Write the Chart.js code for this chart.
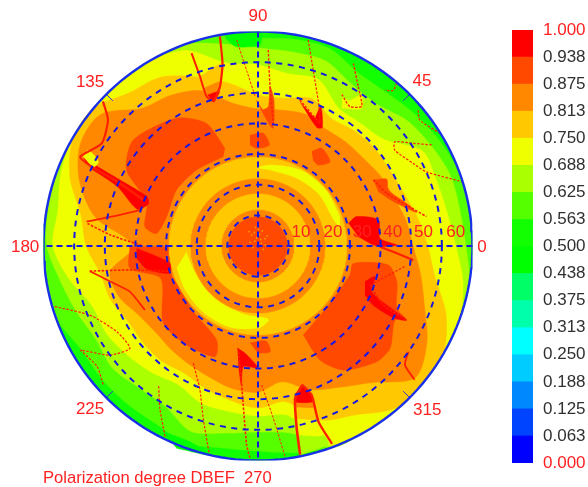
<!DOCTYPE html>
<html><head><meta charset="utf-8">
<style>html,body{margin:0;padding:0;background:#fff;overflow:hidden}canvas{position:absolute;display:block}</style>
<script src="https://cdn.jsdelivr.net/npm/chart.js@4"></script>
</head><body>
<canvas id="polar" width="588" height="487" style="left:0;top:0;width:588px;height:487px"></canvas>
<canvas id="bar" width="76" height="463" style="left:512px;top:15px;width:76px;height:463px"></canvas>
<script>
// contour radii, one every 10 degrees counter-clockwise from 0
const contourStep = 10;
const contourG = [70,69.8,69.8,68.5,66.9,65.3,65.3,68.5,68.5,67.9,69.8,70,70,70,70,70,70,70,70,70,69.8,66.9,66.9,66.9,66.9,68.5,66.9,66.9,68.5,70,70,70,70,70,70,70];
const contourL = [67.9,66.9,66.9,65.3,63.6,60.4,61,64.3,64.3,64.6,66.9,70,70,70,70,70,70,69.5,68.9,65.5,63,61,62,60.4,60.4,64.3,62,60.7,62,70,70,70,70,70,70,70];
const contourY = [64.6,62.7,62,62,53.9,52.2,52.2,57.8,57.1,59.1,60.7,67.9,70,70,70,70,68.5,66.3,66.9,62.5,57.5,57.1,55.5,53.9,52.2,54.5,54.8,55.5,56.1,69.2,70,70,70,70,70,67.9];
const contourA = [55.5,52.9,50.6,49.6,49.6,49,48,51.2,49,49.3,53.9,58.7,63.6,65.3,70,69.8,65.3,58.7,56.1,52.2,51.2,49,49,49,48,49.6,51.2,52.9,51.6,60.4,63.6,69.2,70,69.8,65.3,58.7];
const contourO = [50.6,49,47,46,44.7,44.4,44.1,45.7,45,44.7,47.3,53.9,56.8,58.7,66.9,66.9,62,53.9,40.8,49,48.3,45,43.7,44.1,44.7,45.7,47.3,47.7,45,49.9,53.2,58.1,66.9,63.6,57.8,53.9];
const contourValues = [.59,.66,.72,.78,.84];
const baseValue = .53;
// concentric bands
const bandRadii = [29,21.9,17,11.75,9.5];
const bandValues = [.78,.84,.78,.84,.91];
// patches: value and [x,y] outline in radius units, back to front
const patchValues = [.47,.47,.91,.91,.91,.91,.91,.97,.91,.97,.97,.91,.91,.94,.78,.84,.97,.97,.97,.72,.72,.66,.72,.78,.84,.97];
const patchOutlines = [
[[-30.9,-60.6],[-22.2,-63.9],[-15.7,-68.2],[-26.6,-66]],
[[-11.3,69.4],[.7,70],[.7,65.8],[-7,65],[-10.2,67.4]],
[[-10.8,31.9],[-16.8,40],[-26.6,41.7],[-40.7,34.6],[-42.9,24.8],[-36.3,14.5],[-36.9,6.3],[-33.1,4.1],[-29.8,9.6],[-26.6,18.3],[-20,24.8],[-11.3,29.2]],
[[-28.7,-.2],[-28.2,-9.5],[-25.5,-13.8],[-21.1,-21.4],[-13.5,-30.7],[-14,-36.1],[-23.3,-32.3],[-30.9,-25.2],[-31.7,-10.6],[-41.8,-7.3],[-41.8,-.2]],
[[14.8,-29],[20.2,-37.2],[27.9,-40.5],[38.7,-37.8],[43.1,-33.4],[44.7,-24.2],[48.5,-24.2],[45.3,-20.3],[45.3,-11.6],[42.5,-6.2],[31.1,-5.7],[30,-9.5],[23,-19.3]],
[[17.5,30.8],[20.8,31.9],[23.5,27.5],[19.7,26.4],[18,28]],
[[-2.6,36.2],[1.7,36.8],[3.7,33],[-.4,31.9],[-2.6,33]],
[[-39.6,-.8],[-34.2,-2.9],[-28.7,-5.7],[-28.9,-8.9],[-36.3,-7.5],[-39.6,-4]],
[[-2.6,-31.6],[2.6,-31],[4,-34.5],[0,-35]],
[[34.9,-11.6],[38.2,-10],[37.1,-14.9],[44.2,-20.9],[48.5,-24.2],[44.2,-23.4],[37.6,-19.3],[34.9,-16]],
[[29.5,7.4],[32.2,9.6],[39.3,8.5],[39.8,2.5],[45.3,.3],[38.7,0],[32.8,3]],
[[37.6,21.5],[42,21.8],[42.5,18.3],[48.5,13.9],[51.8,10.9],[44.2,14.5],[39.3,17.7]],
[[-.7,47.7],[4.8,38.4],[5.2,47.7],[3.9,52],[3.4,45.5],[1.7,44.4]],
[[13.7,47.1],[19.2,38.7],[21,38.7],[20.5,45.5],[18.6,41.7]],
[[-18.9,55.3],[-11.5,59.6],[-12.4,52],[-14.6,47.1],[-16.8,48.7]],
[[-17.6,51.5],[-12.2,53.6],[-12.6,50.4],[-14.6,47.1],[-16.5,48.5]],
[[-16.5,49.3],[-12.6,50.4],[-14.4,46.8]],
[[-6.7,-33.4],[-4.2,-35],[-.2,-39.7],[-4.8,-39.4],[-5.4,-45.4],[-6.4,-38.8]],
[[-57,28.6],[-45,21.5],[-36.3,16.1],[-35.8,13.7],[-39.4,12],[-45.9,19.4],[-54.3,25.1]],
[[-57,29.2],[-55.4,31.3],[-52.1,27.5],[-53.8,25.3]],
[[27.3,44.9],[33.8,44.9],[33.8,49.3],[30,47.5],[27.5,48.5]],
[[12.8,-61.7],[21.1,-61.7],[23,-64.6],[13.7,-68.2]],
[[12.1,-49.7],[17.5,-48.6],[19.7,-57.3],[21.1,-61.7],[12.8,-61.7]],
[[12.3,-49.7],[17.5,-48.6],[19.1,-56.3],[12.6,-56.3]],
[[12.3,-50.3],[17.5,-48.6],[18.4,-52.5],[12.4,-52.5]],
[[14.5,-45.2],[17.5,-48.6],[17.8,-50.8],[12.1,-50.8],[12.3,-48.1]]
];
// yellow crescents around the inner rings: [angle degrees, radius]
const crescents = [
[[12,27.4],[20,26.1],[40,26.1],[60,25.5],[80,25.1],[90,25.5],[80,26.8],[60,28.4],[40,28.7],[20,28.4]],
[[185,23.5],[200,22.5],[220,22.2],[240,22.2],[260,22.8],[278,24.2],[270,26.8],[250,28],[230,28],[210,27.7],[195,27.4]]
];
// thin ridges: [angle degrees, radius]
const ridges = [
[[87,64],[85.7,52.2],[82.9,40.5]],
[[76.3,69.2],[72.5,60],[67,50.6],[63,44.7]],
[[74,49.6],[63,44.7]],
[[62.4,67.2],[57.8,61.4],[53.4,56.8],[56.6,54.5],[61,56.5]],
[[49.6,69.8],[49,67.2],[50.9,65.6]],
[[40.3,68.5],[37.9,66.9],[31.8,69.8]],
[[30.2,65.6],[33.5,60.7],[37.3,56.1],[35,54.5],[28,57.4],[23.8,60],[17.4,70]],
[[29.8,43.4],[22.3,45.4],[15.4,50.3],[9.9,55.8]],
[[95.9,67.6],[93.7,57.4],[91,48.6]],
[[100.3,69.5],[101,60.7],[103.4,53.5],[107,49.3]],
[[109,66.6],[108.9,58.4],[109,51.6],[107,49.3]],
[[137,69.2],[139.9,64],[146.7,61],[153.4,64.9],[154.5,60],[155.6,49.6],[158,40.5]],
[[171.9,56.5],[168.5,48.3],[163,40.1]],
[[172.5,56.1],[175.7,48.3],[180,37.5]],
[[188.5,55.5],[190.6,42.4],[196,30]],
[[188.5,55.5],[193.5,49.6],[199.6,44.4],[209.5,42.4]],
[[196.6,69.2],[202.3,59.4],[211.2,53.9],[218.6,53.5],[216.4,60],[210.3,67.2]],
[[210.3,67.2],[216.8,65.6],[222,67.9]],
[[234.7,56.1],[238.9,62],[244,69.2]],
[[241.1,43.7],[247.8,50.3],[252.4,59.1],[256.9,70]],
[[259,33.9],[263.3,45.7],[266.7,64.9],[267.8,69.2]],
[[271.5,45.4],[275.1,56.5],[277.3,69.2]],
[[287.7,47.6],[283.7,51.2],[282,60.7],[281.4,69.5]],
[[287.7,47.6],[289.8,51.6],[289,60.7],[290.5,68.9]],
[[324.9,60],[321,61.7],[319.5,67.2]],
[[340.8,38.8],[334.8,45],[333.5,54.2]],
[[359.7,39.8],[357,45.4],[354.8,50.9]],
[[352,48.3],[342,39.5]]
];
const ridgeWidths = [1.4,1.2,1.4,1.4,1.2,1.2,1.2,1.6,1,2.2,2,2.2,1.8,1.6,1.6,1.8,1.2,1.2,1.2,1.2,1.6,1,2.6,2.4,1.8,1.6,2.2,1.2];
const speckX = [-2.1,-1.2,-.4,.5,1.4,2.3,-2.6,-1,.2,1.1,3,-1.7,0,1.7,-.8,.9,2.4,-2.9];
const speckY = [3.6,4.4,2.7,3.8,4.9,2.4,1.2,1.6,5.4,.9,3.3,-.5,.4,-1.1,6.1,2.1,.3,4.7];
const colourLevels = ['#0000ff','#0044ff','#0088ff','#00ccff','#00ffff','#00ffaa','#00ff66','#00ff00','#11ff00','#55ff00','#aaff00','#f0ff00','#ffc800','#ff8800','#ff4800','#ff0000'];
const binWidths = [.0625,.0625,.0625,.0625,.0625,.0625,.0625,.0625,.0625,.0625,.0625,.0625,.0625,.0625,.0625,.0625];
const colourTicks = ['0.000','0.063','0.125','0.188','0.250','0.313','0.375','0.438','0.500','0.563','0.625','0.688','0.750','0.813','0.875','0.938','1.000'];
const gridRadii = [10,20,30,40,50,60];
const radialLabels = ['10','20','30','40','50','60'];
const radialLabelX = [14,24.5,34,44,54,64.5];
const radialLabelY = 4.6;
const outerRadius = 70;
const angleLabels = ['0','45','90','135','180','225','315'];
const angleLabelAt = [[73.1,-.3],[53.5,53.8],[0,75],[-54.8,53.5],[-76,-.3],[-54.8,-53.2],[55.2,-53.5]];
const captionText = 'Polarization degree DBEF  270';

const toXY = (deg, r) => ({x: r*Math.cos(deg*Math.PI/180), y: r*Math.sin(deg*Math.PI/180)});
const colourOf = v => colourLevels[Math.min(15, Math.floor(v*16))];
const sweep = Array.from({length: 181}, (_, i) => i*2);

const lineSet = (points, o) => Object.assign({type:'scatter', data: points, showLine:true, pointRadius:0, fill:false}, o);
const filled = (points, v, order, tension) => lineSet(points, {fill:'shape', backgroundColor:colourOf(v), borderColor:colourOf(v), borderWidth:.5, tension, order});

const fillSets = [filled(sweep.map(a => toXY(a, outerRadius)), baseValue, 60, 0)];
[contourG,contourL,contourY,contourA,contourO].forEach((c,i) => {
  const pts = c.map((r,k) => toXY(k*contourStep, r)); pts.push(pts[0]);
  fillSets.push(filled(pts, contourValues[i], 50-i, .3));
});
patchOutlines.forEach((p,i) => fillSets.push(filled(p.map(q => ({x:q[0],y:q[1]})), patchValues[i], 44-i*.1, .25)));
fillSets.push(filled(sweep.map(a => toXY(a, 29)), bandValues[0], 30, 0));
crescents.forEach((c,i) => fillSets.push(filled(c.map(q => toXY(q[0],q[1])), .72, 29, .3)));
bandRadii.slice(1).forEach((r,i) => fillSets.push(filled(sweep.map(a => toXY(a, r)), bandValues[i+1], 28-i, 0)));

const speckSet = {type:'scatter', data: speckX.map((x,i) => ({x, y:speckY[i]})), pointRadius:.9, pointBackgroundColor:'#ff9a00', pointBorderWidth:0, order:20};
const ridgeSets = ridges.map((p,i) => lineSet(p.map(q => toXY(q[0], q[1])), {borderColor:'#ff2000', borderWidth:ridgeWidths[i], borderDash:ridgeWidths[i]>1.7?[]:[2.5,1.5], tension:.2, order:10}));
const gridSets = gridRadii.map(r => lineSet(sweep.map(a => toXY(a, r)), {borderColor:'#1818e0', borderWidth:2, borderDash:[6,5.5], order:1}));
const axisSets = [[0,180],[90,270]].map(a => lineSet([toXY(a[0],outerRadius), toXY(a[1],outerRadius)], {borderColor:'#1818e0', borderWidth:2, borderDash:[6,4], order:1}));
const tickSets = [45,135,225,315].map(a => lineSet([toXY(a,67),toXY(a,outerRadius)], {borderColor:'#3a3ac0', borderWidth:1, order:1}));
const rimSet = lineSet(sweep.map(a => toXY(a, outerRadius)), {borderColor:'#1a30e8', borderWidth:2.4, order:0});

const textPlugin = {id:'texts', afterDraw(c){
  const g = c.ctx, X = c.scales.x, Y = c.scales.y;
  g.save(); g.fillStyle='#ff2020'; g.textAlign='center'; g.textBaseline='middle'; g.font='17px "Liberation Sans"';
  radialLabels.forEach((t,i) => g.fillText(t, X.getPixelForValue(radialLabelX[i]), Y.getPixelForValue(radialLabelY)));
  angleLabels.forEach((t,i) => g.fillText(t, X.getPixelForValue(angleLabelAt[i][0]), Y.getPixelForValue(angleLabelAt[i][1])));
  g.textAlign='left'; g.font='16.6px "Liberation Sans"';
  g.fillText(captionText, 43, 478);
  g.restore();
}};

new Chart(document.getElementById('polar'), {
  type:'scatter',
  data:{datasets: fillSets.concat([speckSet], ridgeSets, gridSets, axisSets, tickSets, [rimSet])},
  plugins:[textPlugin],
  options:{responsive:false, animation:false, events:[],
    layout:{padding:{left:43.5,right:115.5,top:31.5,bottom:26.5}},
    plugins:{legend:{display:false},tooltip:{enabled:false}},
    scales:{x:{type:'linear',min:-outerRadius,max:outerRadius,display:false},y:{type:'linear',min:-outerRadius,max:outerRadius,display:false}}}
});

new Chart(document.getElementById('bar'), {
  type:'bar',
  data:{labels:['level'], datasets: binWidths.map((w,i) => ({data:[w], backgroundColor:colourLevels[i], barPercentage:1, categoryPercentage:1, borderWidth:0}))},
  options:{responsive:false, animation:false, events:[],
    layout:{padding:{top:15,bottom:15,left:0,right:0}},
    plugins:{legend:{display:false},tooltip:{enabled:false}},
    scales:{
      x:{stacked:true,display:false},
      y:{stacked:true,position:'right',min:0,max:1,
        afterFit(s){s.width=55;},
        afterBuildTicks(s){s.ticks = colourTicks.map((_,i)=>({value:i*.0625}));},
        grid:{display:false},border:{display:false},
        ticks:{padding:2,autoSkip:false,font:{family:'Liberation Sans',size:17},
          callback:(v,i)=>colourTicks[i],
          color:c=>(c.index===0||c.index===16)?'#ff2020':'#303030'}}}}
});
</script>
</body></html>
